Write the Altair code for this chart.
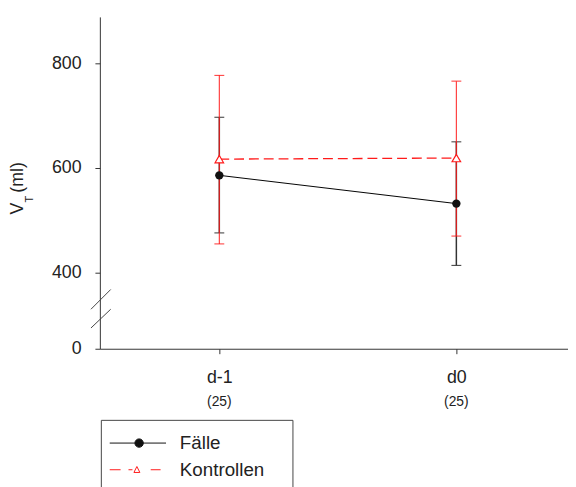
import altair as alt
import pandas as pd

# ---- data ----
days = ["d-1", "d0"]
n_per_day = [25, 25]
series_names = ["Fälle", "Kontrollen"]
faelle_mean = [586, 532]
faelle_lo = [476, 414]
faelle_hi = [697, 650]
kontr_mean = [617, 619]
kontr_lo = [455, 470]
kontr_hi = [777, 766]

# broken axis: the "0" tick sits at this scale position
ZERO_POS = 254.7
Y_TOP = 888.7
FONT = "Liberation Sans"
RED = "#ff1a1a"

rows = []
for s, m, lo, hi in [(series_names[0], faelle_mean, faelle_lo, faelle_hi),
                     (series_names[1], kontr_mean, kontr_lo, kontr_hi)]:
    for i, d in enumerate(days):
        rows.append({"series": s, "idx": i, "day": d, "mean": m[i], "lo": lo[i], "hi": hi[i]})
df = pd.DataFrame(rows)
df_f = df[df.series == series_names[0]]
df_k = df[df.series == series_names[1]]
df_n = pd.DataFrame({"idx": list(range(len(days))), "label": [f"({v})" for v in n_per_day]})

label_expr = "[" + ",".join(f"'{d}'" for d in days) + "][datum.value]"

x_enc = alt.X("idx:Q", scale=alt.Scale(domain=[-0.504, 1.471], nice=False, zero=False),
              axis=alt.Axis(values=list(range(len(days))), labelExpr=label_expr, title=None,
                            tickSize=5, labelPadding=15, labelFont=FONT, labelFontSize=18,
                            labelColor="#222", domainColor="#333", tickColor="#333",
                            grid=False, labelFlush=False))
y_scale = alt.Scale(domain=[ZERO_POS, Y_TOP], nice=False, zero=False)
y_axis = alt.Axis(values=[ZERO_POS, 400, 600, 800],
                  labelExpr=f"datum.value < {ZERO_POS + 1} ? '0' : format(datum.value, 'd')",
                  title=None, tickSize=5, labelPadding=14, labelFont=FONT, labelFontSize=18,
                  labelColor="#222", domainColor="#333", tickColor="#333", grid=False)

def err_layers(d, color, width, opacity):
    base = alt.Chart(d)
    rule = base.mark_rule(color=color, strokeWidth=width, opacity=opacity).encode(
        x=x_enc, y=alt.Y("lo:Q", scale=y_scale, axis=y_axis), y2="hi:Q")
    cap_lo = base.mark_tick(orient="horizontal", color=color, size=10, thickness=1,
                            opacity=opacity).encode(x="idx:Q", y="lo:Q")
    cap_hi = base.mark_tick(orient="horizontal", color=color, size=10, thickness=1,
                            opacity=opacity).encode(x="idx:Q", y="hi:Q")
    return [rule, cap_lo, cap_hi]

line_f = alt.Chart(df_f).mark_line(color="black", strokeWidth=1).encode(x="idx:Q", y="mean:Q")
line_k = alt.Chart(df_k).mark_line(color=RED, strokeWidth=1.3, strokeDash=[10, 5]).encode(
    x="idx:Q", y="mean:Q")

pts_f = alt.Chart(df_f).mark_point(shape="circle", filled=True, color="#111", size=72,
                                   opacity=1).encode(x="idx:Q", y="mean:Q")
pts_k = alt.Chart(df_k).mark_point(shape="triangle-up", fill="white", stroke=RED, strokeWidth=1.2,
                                   size=75, opacity=1).encode(x="idx:Q", y="mean:Q")

# legend symbols: line + marker drawn as custom paths (unit = sqrt(symbolSize)/2 px);
# a trailing bare move-to widens the legend box like the reference's
legend_paths = [
    "M-1.9,0L9.5,0M3.2,0A0.85,0.85,0,1,1,4.9,0A0.85,0.85,0,1,1,3.2,0ZM32.9,0",
    "M-1.9,0L0.3,0M1.9,0L2.7,0M3.6,-0.65L4.2,0.55L3.0,0.55ZM6.4,0L8.4,0M32.9,0",
]
legend_layer = alt.Chart(df).transform_filter("false").mark_point(filled=True, opacity=1).encode(
    x="idx:Q", y="mean:Q",
    shape=alt.Shape("series:N", scale=alt.Scale(domain=series_names, range=legend_paths),
                    legend=alt.Legend(orient="none", legendX=1, legendY=408, title=" ",
                                      titleFontSize=2, titlePadding=3,
                                      strokeColor="#444", fillColor="white", padding=9,
                                      labelFont=FONT, labelFontSize=19, labelColor="#222",
                                      symbolSize=100, symbolStrokeWidth=1, labelOffset=52,
                                      rowPadding=7)),
    fill=alt.Fill("series:N", scale=alt.Scale(domain=series_names, range=["#111", "white"])),
    stroke=alt.Stroke("series:N", scale=alt.Scale(domain=series_names, range=["#111", RED])),
)

n_text = alt.Chart(df_n).mark_text(font=FONT, fontSize=14, color="#222", baseline="middle").encode(
    x="idx:Q", y=alt.value(390), text="label:N")

one = alt.Data(values=[{}])
t_v = alt.Chart(one).mark_text(text="V", font=FONT, fontSize=18, color="#222", angle=270,
                               align="left", baseline="alphabetic").encode(x=alt.value(-78), y=alt.value(200))
t_t = alt.Chart(one).mark_text(text="T", font=FONT, fontSize=11, color="#222", angle=270,
                               align="left", baseline="alphabetic").encode(x=alt.value(-68), y=alt.value(188))
t_ml = alt.Chart(one).mark_text(text="(ml)", font=FONT, fontSize=18, color="#222", angle=270,
                                align="left", baseline="alphabetic").encode(x=alt.value(-78), y=alt.value(178))

brk1 = alt.Chart(one).mark_rule(color="#444", strokeWidth=1).encode(
    x=alt.value(-9), x2=alt.value(11), y=alt.value(296), y2=alt.value(276))
brk2 = alt.Chart(one).mark_rule(color="#444", strokeWidth=1).encode(
    x=alt.value(-9), x2=alt.value(11), y=alt.value(315), y2=alt.value(296))

layers = (err_layers(df_f, "#333", 1.5, 1.0) + err_layers(df_k, RED, 1.1, 0.9)
          + [line_f, line_k, pts_f, pts_k, legend_layer, n_text, t_v, t_t, t_ml, brk1, brk2])

chart = alt.layer(*layers).properties(
    width=474, height=336,
    autosize=alt.AutoSizeParams(type="none"),
    padding={"left": 93, "top": 6, "right": 0, "bottom": 140},
).configure_view(stroke=None)

chart.save("out.html", embed_options={"renderer": "svg", "actions": False})
